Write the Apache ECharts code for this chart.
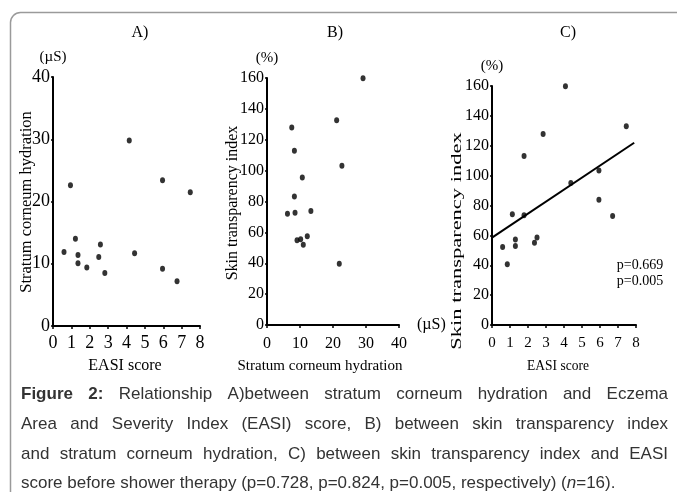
<!DOCTYPE html>
<html><head><meta charset="utf-8">
<script src="https://cdn.jsdelivr.net/npm/echarts@6/dist/echarts.min.js"></script>
<style>html,body{margin:0;padding:0;background:#fff}#c{width:677px;height:492px}</style>
</head><body><div id="c"></div>
<script>
// ---- Data ----
// Panel A: EASI score (x) vs stratum corneum hydration in µS (y)
const easiA = [0.6, 0.95, 1.22, 1.36, 1.36, 1.84, 2.49, 2.58, 2.82, 4.15, 4.44, 5.96, 5.96, 6.75, 7.47];
const hydrationA = [11.9, 22.6, 14.0, 11.4, 10.1, 9.4, 11.1, 13.1, 8.5, 29.8, 11.7, 23.4, 9.2, 7.2, 21.5];
// Panel B: stratum corneum hydration (x) vs skin transparency index % (y)
const hydrationB = [29.1, 21.1, 7.5, 8.3, 22.7, 10.7, 8.3, 6.2, 8.5, 13.3, 9.1, 10.2, 12.2, 11.0, 21.9];
const transparencyB = [159.8, 132.6, 128, 112.8, 103.2, 95.6, 83.2, 72.1, 72.7, 73.8, 54.9, 55.5, 57.5, 52.0, 39.6];
// Panel C: EASI score (x) vs skin transparency index % (y)
const easiC = [0.59, 0.85, 1.13, 1.30, 1.30, 1.78, 1.78, 2.36, 2.5, 2.84, 4.08, 4.38, 5.94, 5.94, 6.70, 7.46];
const transparencyC = [52.2, 40.7, 74.1, 57.2, 52.9, 113.2, 73.4, 55.1, 58.5, 127.9, 159.8, 95.1, 103.5, 83.8, 73.0, 133.1];
// Regression line endpoints in panel C
const fitX = [0, 7.9];
const fitY = [58.5, 122];
// Tick labels
const easiTicks = [0, 1, 2, 3, 4, 5, 6, 7, 8];
const hydrationTicksA = [0, 10, 20, 30, 40];
const hydrationTicksB = [0, 10, 20, 30, 40];
const transparencyTicks = [0, 20, 40, 60, 80, 100, 120, 140, 160];
// Texts
const panelTitles = ['A)', 'B)', 'C)'];
const pValues = ['p=0.669', 'p=0.005'];
const captionLines = [
  "**Figure** **2:** Relationship A)between stratum corneum hydration and Eczema",
  "Area and Severity Index (EASI) score, B) between skin transparency index",
  "and stratum corneum hydration, C) between skin transparency index and EASI",
  "score before shower therapy (p=0.728, p=0.824, p=0.005, respectively) (_n_=16)."
];

// ---- Helpers ----
const pairs = (xs, ys) => xs.map((x, i) => [x, ys[i]]);
const rng = t => ({min: t[0], max: t[t.length - 1], interval: t[1] - t[0]});
const SERIF = '"Liberation Serif", "Times New Roman", serif';
const SANS = '"Liberation Sans", Arial, sans-serif';

function xAx(grid, ticks, fs, margin, extra) {
  return Object.assign({
    type: 'value', gridIndex: grid, ...rng(ticks),
    axisLine: {show: true, onZero: false, lineStyle: {color: '#000', width: 2}},
    axisTick: {show: true, length: 3, lineStyle: {color: '#000', width: 1.5}},
    axisLabel: {color: '#000', fontFamily: SERIF, fontSize: fs, margin: margin},
    splitLine: {show: false}
  }, extra || {});
}
function yAx(grid, ticks, fs, extra) {
  return Object.assign({
    type: 'value', gridIndex: grid, ...rng(ticks),
    axisLine: {show: true, onZero: false, lineStyle: {color: '#000', width: 2}},
    axisTick: {show: true, length: 2, lineStyle: {color: '#000', width: 1.5}},
    axisLabel: {color: '#000', fontFamily: SERIF, fontSize: fs, margin: 3},
    splitLine: {show: false}
  }, extra || {});
}
const unitName = (txt, fs, gap) => ({name: txt, nameLocation: 'end', nameGap: gap,
  nameTextStyle: {color: '#000', fontFamily: SERIF, fontSize: fs}});

const dot = {color: '#000'};

// ---- Caption layout (justified) ----
const mctx = document.createElement('canvas').getContext('2d');
function mw(t, f) { mctx.font = f; return mctx.measureText(t).width; }
function capFont(fs, bold, italic) { return (italic ? 'italic ' : '') + (bold ? 'bold ' : '') + fs + 'px ' + SANS; }
function parseWord(w) {
  if (w.startsWith('**') && w.endsWith('**')) return [{t: w.slice(2, -2), b: true}];
  const segs = [];
  const parts = w.split('_');
  parts.forEach((p, i) => { if (p) segs.push({t: p, i: i % 2 === 1}); });
  return segs;
}
const CAP_L = 21, CAP_R = 668, capY = [394, 424, 454, 483];
const lastWords = captionLines[3].split(' ').map(parseWord);
function lineNatural(words, fs) {
  let w = 0;
  words.forEach((ws, k) => { ws.forEach(s => w += mw(s.t, capFont(fs, s.b, s.i))); if (k) w += mw(' ', capFont(fs)); });
  return w;
}
const capFs = Math.min(17, 16 * (CAP_R - CAP_L) / lineNatural(lastWords, 16));
const captionEls = [];
captionLines.forEach((line, li) => {
  const words = line.split(' ').map(parseWord);
  const widths = words.map(ws => ws.reduce((a, s) => a + mw(s.t, capFont(capFs, s.b, s.i)), 0));
  const total = widths.reduce((a, b) => a + b, 0);
  const gap = li < captionLines.length - 1 ? (CAP_R - CAP_L - total) / (words.length - 1) : mw(' ', capFont(capFs));
  let x = CAP_L;
  words.forEach((ws, k) => {
    let sx = x;
    ws.forEach(s => {
      const f = capFont(capFs, s.b, s.i);
      captionEls.push({type: 'text', x: sx, y: capY[li], silent: true,
        style: {text: s.t, font: f, fill: '#333', align: 'left', verticalAlign: 'middle'}});
      sx += mw(s.t, f);
    });
    x += widths[k] + gap;
  });
});

const chart = echarts.init(document.getElementById('c'), null, {renderer: 'canvas'});
const option = {
  backgroundColor: '#fff',
  animation: false,
  grid: [
    {left: 53, top: 77, width: 147, height: 249},
    {left: 267, top: 78, width: 132, height: 247},
    {left: 492, top: 86, width: 144, height: 239}
  ],
  xAxis: [
    xAx(0, easiTicks, 18, 8),
    xAx(1, hydrationTicksB, 16, 11, unitName('(µS)', 16, 18)),
    xAx(2, easiTicks, 15, 11)
  ],
  yAxis: [
    yAx(0, hydrationTicksA, 18, unitName('(µS)', 15, 12)),
    yAx(1, transparencyTicks, 16, unitName('(%)', 15, 12)),
    yAx(2, transparencyTicks, 16, unitName('(%)', 15, 12))
  ],
  series: [
    {type: 'scatter', xAxisIndex: 0, yAxisIndex: 0, symbolSize: [5, 6], itemStyle: dot, data: pairs(easiA, hydrationA)},
    {type: 'scatter', xAxisIndex: 1, yAxisIndex: 1, symbolSize: [5, 6], itemStyle: dot, data: pairs(hydrationB, transparencyB)},
    {type: 'scatter', xAxisIndex: 2, yAxisIndex: 2, symbolSize: [5, 6], itemStyle: dot, data: pairs(easiC, transparencyC)},
    {type: 'line', xAxisIndex: 2, yAxisIndex: 2, symbol: 'none', lineStyle: {color: '#000', width: 2}, data: pairs(fitX, fitY), z: 1}
  ],
  graphic: {elements: [
    {type: 'rect', shape: {x: 10.5, y: 12.5, width: 720, height: 520, r: 10}, style: {fill: 'none', stroke: '#9a9a9a', lineWidth: 1.5}, silent: true},
    {type: 'text', x: 140, y: 33, style: {text: panelTitles[0], font: '16px ' + SERIF, fill: '#000', align: 'center', verticalAlign: 'middle'}},
    {type: 'text', x: 335, y: 33, style: {text: panelTitles[1], font: '16px ' + SERIF, fill: '#000', align: 'center', verticalAlign: 'middle'}},
    {type: 'text', x: 568, y: 33, style: {text: panelTitles[2], font: '16px ' + SERIF, fill: '#000', align: 'center', verticalAlign: 'middle'}},
    // y-axis titles
    {type: 'text', x: 27, y: 202, rotation: Math.PI / 2, style: {text: 'Stratum corneum hydration', font: '16.5px ' + SERIF, fill: '#000', align: 'center', verticalAlign: 'middle'}},
    {type: 'text', x: 233, y: 203, rotation: Math.PI / 2, style: {text: 'Skin transparency index', font: '16px ' + SERIF, fill: '#000', align: 'center', verticalAlign: 'middle'}},
    {type: 'text', x: 457, y: 241, rotation: Math.PI / 2, scaleX: 1.5, style: {text: 'Skin transparency index', font: '15px ' + SERIF, fill: '#000', align: 'center', verticalAlign: 'middle'}},
    // x-axis titles
    {type: 'text', x: 125, y: 366, style: {text: 'EASI score', font: '16px ' + SERIF, fill: '#000', align: 'center', verticalAlign: 'middle'}},
    {type: 'text', x: 320, y: 366, style: {text: 'Stratum corneum hydration', font: '15px ' + SERIF, fill: '#000', align: 'center', verticalAlign: 'middle'}},
    {type: 'text', x: 558, y: 366, scaleY: 1.15, style: {text: 'EASI score', font: '13.5px ' + SERIF, fill: '#000', align: 'center', verticalAlign: 'middle'}},
    // p-values
    {type: 'text', x: 640, y: 265, style: {text: pValues[0], font: '14px ' + SERIF, fill: '#000', align: 'center', verticalAlign: 'middle'}},
    {type: 'text', x: 640, y: 281, style: {text: pValues[1], font: '14px ' + SERIF, fill: '#000', align: 'center', verticalAlign: 'middle'}}
  ].concat(captionEls)}
};
chart.setOption(option);
</script>
</body></html>
